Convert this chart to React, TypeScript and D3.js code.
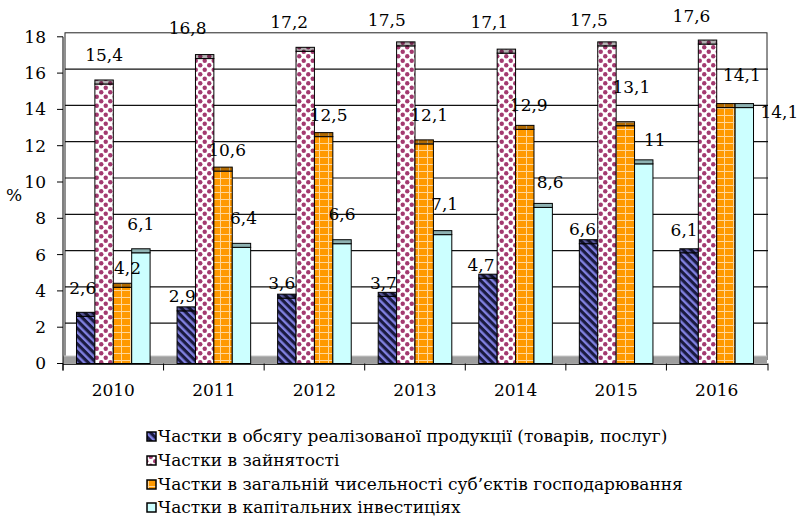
import React from 'react';
import * as d3 from 'd3';

// Shares of small enterprises in the national economy, %
const years = ['2010', '2011', '2012', '2013', '2014', '2015', '2016'];
const salesShare = [2.6, 2.9, 3.6, 3.7, 4.7, 6.6, 6.1];
const employmentShare = [15.4, 16.8, 17.2, 17.5, 17.1, 17.5, 17.6];
const entitiesShare = [4.2, 10.6, 12.5, 12.1, 12.9, 13.1, 14.1];
const investmentShare = [6.1, 6.4, 6.6, 7.1, 8.6, 11, 14.1];
const seriesNames = [
  'Частки в обсягу реалізованої продукції (товарів, послуг)',
  'Частки в зайнятості',
  'Частки в загальній чисельності суб’єктів господарювання',
  'Частки в капітальних інвестиціях',
];
const yTicks = [0, 2, 4, 6, 8, 10, 12, 14, 16, 18];

const seriesValues = [salesShare, employmentShare, entitiesShare, investmentShare];
const seriesFill = ['url(#pSales)', 'url(#pEmployment)', 'url(#pEntities)', 'url(#pInvest)'];

// Hand-placed data label offsets [dx, dy] per series and year
const LABEL_NUDGE: number[][][] = [
  [[-3, -2], [-4, 11], [-5, 11], [-4, 13], [-7, 13], [-6, 11], [-5, 3]],
  [[0, -3], [-17, -5], [-16, -3], [-19, 0], [-17, -5], [-18, 0], [-16, -2]],
  [[5, 7], [4, 5], [5, 4], [5, -3], [4, 2], [6, -13], [16, -7]],
  [[0, -3], [2, -3], [0, -4], [2, -5], [7, 1], [11, 2], [35, 30]],
];

const W = 800;
const H = 521;
const FONT = "'DejaVu Serif', 'Liberation Serif', 'Times New Roman', serif";
const FS = 17;
const DEPTH = 4;
const AXIS_X = 63;
const WALL_X = 65;
const RIGHT_X = 767;
const BAR_W = 18.4;

const fmt = (v: number) => String(v).replace('.', ',');

export default function App() {
  const x0 = d3.scaleBand<string>().domain(years).range([AXIS_X, RIGHT_X]).paddingInner(0).paddingOuter(0);
  const groupW = BAR_W * seriesValues.length;
  const x1 = d3
    .scaleBand<number>()
    .domain(d3.range(seriesValues.length))
    .range([0, groupW]);
  const groupOffset = (x0.bandwidth() - groupW) / 2;
  const yBack = d3.scaleLinear().domain([0, 18]).range([359.5, 32.8]);
  const yFront = (v: number) => yBack(v) + DEPTH;

  const barX = (yi: number, si: number) => (x0(years[yi]) as number) + groupOffset + (x1(si) as number);

  const legendY = [442, 466, 490, 513];
  const textStyle = { fontFamily: FONT };

  return (
    <svg
      width={W}
      height={H}
      viewBox={`0 0 ${W} ${H}`}
      style={{ position: 'absolute', left: 0, top: 0, background: '#fff', fontFamily: FONT }}
    >
      <defs>
        <pattern id="pSales" width="5.5" height="5.5" patternUnits="userSpaceOnUse" patternTransform="rotate(-45)">
          <rect width="5.5" height="5.5" fill="#1a1a40" />
          <rect width="2.4" height="5.5" fill="#8080e0" />
        </pattern>
        <pattern id="pEmployment" width="9" height="9" patternUnits="userSpaceOnUse">
          <rect width="9" height="9" fill="#fff" />
          <circle cx="2.25" cy="2.25" r="2.2" fill="#a33a70" />
          <circle cx="6.75" cy="6.75" r="2.2" fill="#a33a70" />
        </pattern>
        <pattern id="pEntities" width="9" height="7" patternUnits="userSpaceOnUse">
          <rect width="9" height="7" fill="#ff9900" />
          <rect x="4" width="1" height="7" fill="#ffd79a" />
          <rect y="3" width="9" height="1" fill="#ffd79a" />
        </pattern>
        <pattern id="pInvest" width="4" height="4" patternUnits="userSpaceOnUse">
          <rect width="4" height="4" fill="#ccffff" />
        </pattern>
      </defs>

      {/* back wall and gridlines */}
      <rect x={WALL_X} y={yBack(18)} width={RIGHT_X - WALL_X} height={yBack(0) - yBack(18)} fill="#fff" stroke="#222" strokeWidth={1} />
      {yTicks
        .filter((t) => t > 0 && t < 18)
        .map((t) => (
          <line key={`g${t}`} x1={WALL_X} x2={RIGHT_X + 1} y1={yBack(t)} y2={yBack(t)} stroke="#111" strokeWidth={1.2} />
        ))}

      {/* floor */}
      <rect x={AXIS_X} y={yBack(0) - 3.5} width={RIGHT_X - AXIS_X} height={yFront(0) - yBack(0) + 3.5} fill="#9e9e9e" />
      <line x1={AXIS_X} x2={RIGHT_X} y1={yBack(0) - 3.5} y2={yBack(0) - 3.5} stroke="#c8c8c8" strokeWidth={1} />

      {/* bars with top caps */}
      {seriesValues.map((vals, si) =>
        vals.map((v, yi) => {
          const bx = barX(yi, si);
          const top = yFront(v);
          const bottom = yFront(0);
          return (
            <g key={`b${si}-${yi}`}>
              <rect x={bx} y={top} width={BAR_W} height={bottom - top} fill={seriesFill[si]} stroke="#000" strokeWidth={1} />
              <rect x={bx} y={yBack(v)} width={BAR_W} height={DEPTH} fill={seriesFill[si]} />
              <rect x={bx} y={yBack(v)} width={BAR_W} height={DEPTH} fill="#000" fillOpacity={0.3} stroke="#000" strokeWidth={1} />
            </g>
          );
        })
      )}

      {/* axes */}
      <line x1={AXIS_X} x2={AXIS_X} y1={yFront(18)} y2={yFront(0) + 7} stroke="#000" strokeWidth={1} />
      <line x1={AXIS_X} x2={RIGHT_X + 1} y1={yFront(0) + 0.8} y2={yFront(0) + 0.8} stroke="#000" strokeWidth={1} />
      {yTicks.map((t) => (
        <g key={`yt${t}`}>
          <line x1={AXIS_X - 6} x2={AXIS_X} y1={yFront(t)} y2={yFront(t)} stroke="#000" strokeWidth={1} />
          <text x={46} y={yFront(t)} dy="0.35em" textAnchor="end" fontSize={FS} fill="#000" style={textStyle}>
            {t}
          </text>
        </g>
      ))}
      {years.map((yr) => (
        <line key={`xt${yr}`} x1={x0(yr) as number} x2={x0(yr) as number} y1={yFront(0)} y2={yFront(0) + 7} stroke="#000" strokeWidth={1} />
      ))}
      <line x1={RIGHT_X + 1} x2={RIGHT_X + 1} y1={yFront(0)} y2={yFront(0) + 7} stroke="#000" strokeWidth={1} />
      {years.map((yr) => (
        <text
          key={`xl${yr}`}
          x={(x0(yr) as number) + x0.bandwidth() / 2}
          y={396}
          textAnchor="middle"
          fontSize={FS}
          fill="#000"
          style={textStyle}
        >
          {yr}
        </text>
      ))}
      <text x={6} y={201} fontSize={FS} fill="#000" style={textStyle}>
        %
      </text>

      {/* data labels */}
      {seriesValues.map((vals, si) =>
        vals.map((v, yi) => {
          const [dx, dy] = LABEL_NUDGE[si][yi];
          return (
            <text
              key={`l${si}-${yi}`}
              x={barX(yi, si) + BAR_W / 2 + dx}
              y={yFront(v) - 26 + dy}
              dy="0.35em"
              textAnchor="middle"
              fontSize={FS}
              fill="#000"
              style={textStyle}
            >
              {fmt(v)}
            </text>
          );
        })
      )}

      {/* legend */}
      {seriesNames.map((name, i) => (
        <g key={`lg${i}`}>
          <rect x={147} y={legendY[i] - 10} width={9} height={9} fill={seriesFill[i]} stroke="#000" strokeWidth={1.5} />
          <text x={158} y={legendY[i]} fontSize={FS} fill="#000" style={textStyle}>
            {name}
          </text>
        </g>
      ))}
    </svg>
  );
}
